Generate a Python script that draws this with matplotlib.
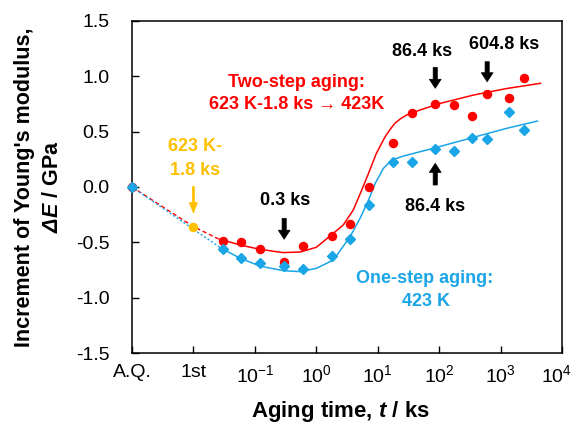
import matplotlib
matplotlib.use("Agg")
import matplotlib.pyplot as plt
import matplotlib.transforms as mtransforms
import numpy as np

plt.rcParams['font.family'] = ['Liberation Sans', 'DejaVu Sans']
plt.rcParams['mathtext.fontset'] = 'custom'
plt.rcParams['mathtext.rm'] = 'Liberation Sans'
plt.rcParams['mathtext.it'] = 'Liberation Sans:italic'
plt.rcParams['mathtext.bf'] = 'Liberation Sans:bold'
plt.rcParams['mathtext.bfit'] = 'Liberation Sans:bold:italic'
plt.rcParams['axes.unicode_minus'] = False

# aging times (ks)
t_pts = [0.03, 0.06, 0.12, 0.3, 0.6, 1.8, 3.6, 7.2, 18, 36, 86.4, 172.8, 345.6, 604.8, 1382.4, 2419.2]
two_step = [-0.488, -0.50, -0.557, -0.675, -0.536, -0.443, -0.337, 0.003, 0.40, 0.671,
            0.747, 0.741, 0.641, 0.84, 0.80, 0.985]
one_step = [-0.563, -0.644, -0.69, -0.71, -0.744, -0.623, -0.473, -0.163, 0.226, 0.226,
            0.343, 0.325, 0.445, 0.434, 0.678, 0.518]

# A.Q. and after 1st step (623 K-1.8 ks), placed at 1e-3 and 1e-2 on the axis
t_aq = 1e-3
t_first = 1e-2
de_aq = 0.0
de_first = -0.358

# fitted curves
t_fit2 = [0.027, 0.058, 0.12, 0.29, 0.55, 1.0, 1.7, 2.75, 4.0, 5.5, 7.1, 9.5, 13.2, 16, 19, 23.5,
          29.5, 49, 105, 363, 1260, 4470]
fit2 = [-0.473, -0.524, -0.563, -0.593, -0.587, -0.545, -0.44, -0.343, -0.208, -0.027, 0.124,
        0.304, 0.454, 0.522, 0.575, 0.617, 0.650, 0.696, 0.756, 0.831, 0.89, 0.937]
t_fit1 = [0.027, 0.058, 0.12, 0.29, 0.55, 1.0, 1.9, 2.6, 3.55, 5.16, 7.1, 9.1, 12.4, 17, 26.3,
          49, 81, 363, 1260, 3980]
fit1 = [-0.548, -0.644, -0.714, -0.756, -0.765, -0.735, -0.66, -0.554, -0.449, -0.283, -0.117,
        0.033, 0.169, 0.244, 0.28, 0.319, 0.35, 0.449, 0.53, 0.596]

xtick_pos = [1e-3, 1e-2, 1e-1, 1e0, 1e1, 1e2, 1e3, 1e4]
xtick_lab = ['A.Q.', '1st', '10$^{-1}$', '10$^{0}$', '10$^{1}$', '10$^{2}$', '10$^{3}$', '10$^{4}$']
ytick_pos = [-1.5, -1.0, -0.5, 0.0, 0.5, 1.0, 1.5]
ytick_lab = ['-1.5', '-1.0', '-0.5', '0.0', '0.5', '1.0', '1.5']

red = '#FF0000'
blue = '#1AA5E6'
orange = '#FFC000'

fig = plt.figure(figsize=(5.74, 4.24), dpi=100)
ax = fig.add_axes([132/574, 1-353/424, 430/574, 332/424])

# dashed connections from A.Q.
ax.plot([t_aq, t_first, t_pts[0]], [de_aq, de_first, two_step[0]], color=red, lw=1, ls=(0, (3, 2)), zorder=2)
ax.plot([t_aq, t_pts[0]], [de_aq, one_step[0]], color=blue, lw=1, ls=(0, (1.5, 1.5)), zorder=2)

ax.plot(t_fit2, fit2, color=red, lw=1.1, zorder=2)
ax.plot(t_fit1, fit1, color=blue, lw=1.1, zorder=2)

ax.plot(t_pts, two_step, 'o', color=red, ms=5.8, zorder=3)
ax.plot(t_pts, one_step, 'D', color=blue, ms=5.2, zorder=3)
ax.plot([t_aq], [de_aq], 'o', color=red, ms=5.8, zorder=3, clip_on=False)
ax.plot([t_aq], [de_aq], 'D', color=blue, ms=5.2, zorder=4, clip_on=False)
ax.plot([t_first], [de_first], 'o', color=orange, ms=5.8, zorder=4)

ax.set_xscale('log')
ax.set_xlim(1e-3, 1e4)
ax.set_ylim(-1.5, 1.5)
ax.set_xticks(xtick_pos)
ax.set_xticklabels(xtick_lab)
ax.minorticks_off()
ax.set_yticks(ytick_pos)
ax.set_yticklabels(ytick_lab)
ax.tick_params(direction='in', length=5, width=1, labelsize=14)
ax.tick_params(axis='x', pad=8)
ax.tick_params(axis='y', pad=16)
for s in ax.spines.values():
    s.set_linewidth(1.1)

# keep the last tick label inside the figure
last = ax.get_xticklabels()[-1]
last.set_transform(last.get_transform() + mtransforms.ScaledTranslation(-4/72, 0, fig.dpi_scale_trans))

# annotations
bold = dict(fontweight='bold', fontsize=13, ha='center', va='center')
ax.text(0.485, 0.948, 'Two-step aging:', color=red, **bold)
ax.text(0.485, 0.741, '623 K-1.8 ks \u2192 423K', color=red, **bold)
ax.text(59, -0.831, 'One-step aging:', color=blue, **bold)
ax.text(60, -1.039, '423 K', color=blue, **bold)
ax.text(0.0106, 0.37, '623 K-', color=orange, **bold)
ax.text(0.0106, 0.145, '1.8 ks', color=orange, **bold)
ax.text(52.5, 1.22, '86.4 ks', color='black', **bold)
ax.text(1137, 1.29, '604.8 ks', color='black', **bold)
ax.text(0.31, -0.124, '0.3 ks', color='black', **bold)
ax.text(85.8, -0.18, '86.4 ks', color='black', **bold)

blk = dict(arrowstyle='simple,head_length=0.65,head_width=0.85,tail_width=0.3',
           fc='black', ec='black', lw=0.5, shrinkA=0, shrinkB=0, mutation_scale=10)
ax.annotate('', xy=(86.4, 0.892), xytext=(86.4, 1.081), arrowprops=blk)
ax.annotate('', xy=(604.8, 0.951), xytext=(604.8, 1.132), arrowprops=blk)
ax.annotate('', xy=(0.3, -0.472), xytext=(0.3, -0.283), arrowprops=blk)
ax.annotate('', xy=(86.4, 0.214), xytext=(86.4, 0.018), arrowprops=blk)
org = dict(arrowstyle='simple,head_length=0.75,head_width=0.6,tail_width=0.15',
           fc=orange, ec=orange, lw=0.5, shrinkA=0, shrinkB=0, mutation_scale=10)
ax.annotate('', xy=(t_first, -0.235), xytext=(t_first, 0.003), arrowprops=org)

fig.text(341/574, 1-411/424, 'Aging time, $\\mathbfit{t}$ / ks', fontweight='bold', fontsize=16,
         ha='center', va='center')
fig.text(25/574, 1-187/424, "Increment of Young's modulus,", fontweight='bold', fontsize=15.5,
         rotation=90, ha='center', va='center')
fig.text(53/574, 1-187/424, '$\\mathbfit{\u0394E}$ / GPa', fontweight='bold', fontsize=15.5,
         rotation=90, ha='center', va='center')

fig.savefig('out.png', dpi=100)
